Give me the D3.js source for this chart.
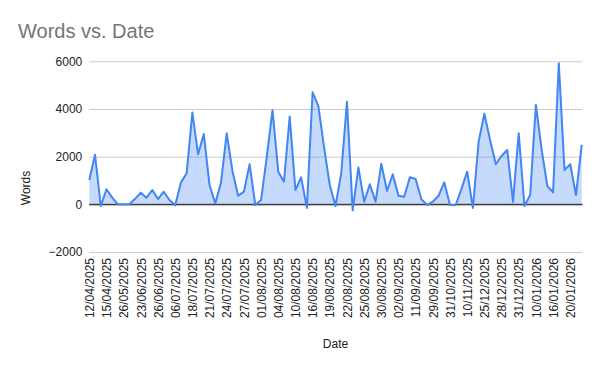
<!DOCTYPE html>
<html>
<head>
<meta charset="utf-8">
<script src="https://cdn.jsdelivr.net/npm/d3@7"></script>
<style>
  body { margin: 0; background: #fff; }
  text { font-family: Arial, "Liberation Sans", sans-serif; }
</style>
</head>
<body>
<div id="chart"></div>
<script>
// Dates (only every 3rd one is labelled on the axis)
const dates = [
    "12/04/2025", "13/04/2025", "14/04/2025", "15/04/2025", "22/04/2025", "05/05/2025",
    "26/05/2025", "02/06/2025", "12/06/2025", "23/06/2025", "24/06/2025", "25/06/2025",
    "26/06/2025", "28/06/2025", "02/07/2025", "06/07/2025", "10/07/2025", "15/07/2025",
    "18/07/2025", "19/07/2025", "20/07/2025", "21/07/2025", "22/07/2025", "23/07/2025",
    "24/07/2025", "25/07/2025", "26/07/2025", "27/07/2025", "29/07/2025", "30/07/2025",
    "01/08/2025", "02/08/2025", "03/08/2025", "04/08/2025", "06/08/2025", "08/08/2025",
    "10/08/2025", "12/08/2025", "14/08/2025", "16/08/2025", "17/08/2025", "18/08/2025",
    "19/08/2025", "20/08/2025", "21/08/2025", "22/08/2025", "23/08/2025", "24/08/2025",
    "25/08/2025", "27/08/2025", "28/08/2025", "30/08/2025", "31/08/2025", "01/09/2025",
    "02/09/2025", "05/09/2025", "08/09/2025", "11/09/2025", "15/09/2025", "22/09/2025",
    "29/09/2025", "06/10/2025", "20/10/2025", "31/10/2025", "03/11/2025", "07/11/2025",
    "10/11/2025", "20/11/2025", "10/12/2025", "25/12/2025", "26/12/2025", "27/12/2025",
    "28/12/2025", "29/12/2025", "30/12/2025", "31/12/2025", "02/01/2026", "06/01/2026",
    "10/01/2026", "12/01/2026", "14/01/2026", "16/01/2026", "17/01/2026", "18/01/2026",
    "20/01/2026", "21/01/2026", "22/01/2026"
];

const words = [
    1020, 2080, -70, 630, 280, 0, 0, 0, 230, 490, 280, 600,
    220, 530, 180, -40, 910, 1300, 3850, 2100, 2950, 810, 40, 910,
    2980, 1400, 360, 530, 1680, -30, 180, 2000, 3950, 1370, 950, 3680,
    600, 1130, -150, 4700, 4130, 2400, 810, -70, 1300, 4300, -250, 1550,
    110, 840, 110, 1700, 560, 1260, 360, 320, 1140, 1060, 210, -30,
    110, 360, 920, -30, -30, 650, 1370, -150, 2630, 3800, 2700, 1680,
    2030, 2280, 100, 2980, -70, 390, 4170, 2300, 770, 500, 5920, 1440,
    1680, 390, 2490
];

const yTicks = [-2000, 0, 2000, 4000, 6000];

const width = 600;
const height = 371;
const margin = {top: 61.3, right: 18.3, bottom: 119, left: 89.3};

const svg = d3.select("#chart")
    .append("svg")
    .attr("width", width)
    .attr("height", height);

const x = d3.scalePoint()
    .domain(dates)
    .range([margin.left, width - margin.right]);

const y = d3.scaleLinear()
    .domain([-2000, 6000])
    .range([height - margin.bottom, margin.top]);

// Title
svg.append("text")
    .attr("x", 18)
    .attr("y", 38)
    .attr("font-size", 20)
    .attr("fill", "#757575")
    .text("Words vs. Date");

// Y axis with gridlines
const yAxis = svg.append("g")
    .attr("transform", `translate(${margin.left},0)`)
    .call(d3.axisLeft(y)
        .tickValues(yTicks)
        .tickSize(-(width - margin.left - margin.right) - 0.7)
        .tickPadding(7)
        .tickFormat(d3.format("d")));

yAxis.select(".domain").remove();
yAxis.selectAll(".tick line")
    .attr("stroke", d => d === 0 ? "#333" : "#ccc")
    .attr("stroke-width", 1);
yAxis.selectAll(".tick text")
    .attr("font-size", 12)
    .attr("font-family", "Arial, 'Liberation Sans', sans-serif")
    .attr("fill", "#222");

// Area + line
const area = d3.area()
    .x((d, i) => x(dates[i]))
    .y0(y(0))
    .y1(d => y(d));

const line = d3.line()
    .x((d, i) => x(dates[i]))
    .y(d => y(d));

svg.append("path")
    .datum(words)
    .attr("d", area)
    .attr("fill", "#4285f4")
    .attr("fill-opacity", 0.3);

// redraw the zero line above the fill
svg.append("line")
    .attr("x1", margin.left)
    .attr("x2", width - margin.right + 0.7)
    .attr("y1", y(0))
    .attr("y2", y(0))
    .attr("stroke", "#333");

svg.append("path")
    .datum(words)
    .attr("d", line)
    .attr("fill", "none")
    .attr("stroke", "#4285f4")
    .attr("stroke-width", 2)
    .attr("stroke-linejoin", "round");

// X axis labels (every 3rd date)
const xAxis = svg.append("g")
    .attr("transform", `translate(0,${y(-2000)})`)
    .call(d3.axisBottom(x)
        .tickValues(dates.filter((d, i) => i % 3 === 0))
        .tickSize(0));

xAxis.select(".domain").remove();
xAxis.selectAll(".tick text")
    .attr("font-size", 12)
    .attr("font-family", "Arial, 'Liberation Sans', sans-serif")
    .attr("fill", "#222")
    .attr("text-anchor", "end")
    .attr("transform", "rotate(-90)")
    .attr("x", -6)
    .attr("y", 0)
    .attr("dy", "0.35em");

// Axis titles
svg.append("text")
    .attr("x", (margin.left + width - margin.right) / 2)
    .attr("y", 348)
    .attr("text-anchor", "middle")
    .attr("font-size", 12)
    .attr("fill", "#222")
    .text("Date");

svg.append("text")
    .attr("transform", "translate(30,188) rotate(-90)")
    .attr("text-anchor", "middle")
    .attr("font-size", 12)
    .attr("fill", "#222")
    .text("Words");
</script>
</body>
</html>
